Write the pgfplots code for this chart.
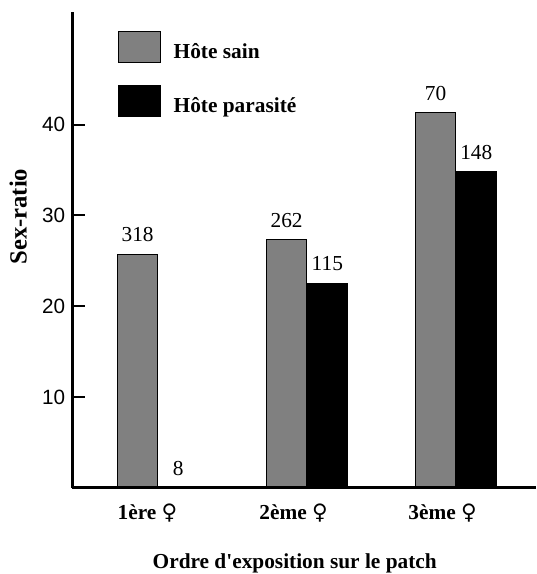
\documentclass[border=0pt]{standalone}
\usepackage{fontspec}
\setmainfont{Liberation Serif}
\newfontfamily\sansf{Liberation Sans}
\newfontfamily\symf{DejaVu Sans}
\newfontfamily\plainserif[Ligatures=NoCommon]{Liberation Serif}
\usepackage{pgfplots}
\pgfplotsset{compat=1.18}
\definecolor{barGray}{RGB}{128,128,128}
\newcommand{\fem}{{\symf\mdseries ♀}}
\begin{document}
\begin{tikzpicture}[x=1pt,y=1pt]
\path[use as bounding box] (0,0) rectangle (402,430.5);
\begin{axis}[
  at={(54pt,64.5pt)}, anchor=south west,
  scale only axis, width=348pt, height=357pt,
  xmin=-0.577, xmax=2.537, ymin=0, ymax=52.4,
  axis x line=bottom, axis y line=left,
  axis line style={-, line width=2.25pt},
  axis on top,
  ytick={10,20,30,40},
  tick align=inside,
  major tick length=9.75pt,
  ytick style={line width=1.5pt, black},
  yticklabel style={font=\sansf\fontsize{15.5}{17}\selectfont, inner sep=0pt, xshift=-5pt},
  /pgf/number format/assume math mode=true,
  xtick={-0.07,0.91,1.91},
  xticklabels={1ère\ \fem, 2ème\ \fem, 3ème \fem},
  xtick style={draw=none},
  xticklabel style={font=\bfseries\fontsize{16}{18}\selectfont, anchor=base, inner sep=0pt, yshift=-14pt},
  xlabel={Ordre d\textquotesingle exposition sur le patch},
  xlabel style={font=\bfseries\fontsize{16}{18}\selectfont, at={(axis description cs:0.48,0)}, anchor=base, inner sep=0pt, yshift=-60pt},
  ylabel={Sex-ratio},
  ylabel style={font=\bfseries\fontsize{18.5}{20}\selectfont, at={(axis description cs:-0.116,0.57)}, anchor=center, inner sep=0pt},
  ybar, bar width=30.5pt,
  nodes near coords,
  point meta=explicit symbolic,
  nodes near coords style={font=\fontsize{16}{18}\selectfont, inner sep=0pt, anchor=south, yshift=9pt, black},
  legend style={at={(axis description cs:0.099,0.960)}, anchor=north west, draw=none, fill=none,
    inner sep=0pt, row sep=16.5pt, column sep=0pt,
    nodes={inner sep=0pt, font=\bfseries\fontsize{16}{18}\selectfont}},
  legend cell align=left,
  legend image code/.code={\draw[#1,draw=black,line width=0.75pt] (0pt,-8.2pt) rectangle (31.5pt,15pt); \path[draw=none,fill=none] (31.5pt,0) -- (41.25pt,0);},
]
\addplot[fill=barGray, draw=black, line width=0.75pt, bar shift=-15.25pt]
  coordinates {(0,25.7) [318] (1,27.3) [262] (2,41.3) [70]};
\addplot[fill=black, draw=black, line width=0.75pt, bar shift=15.25pt]
  coordinates {(0,0) [8] (1,22.5) [115] (2,34.8) [148]};
\legend{Hôte sain, Hôte parasité}
\end{axis}
\end{tikzpicture}
\end{document}
